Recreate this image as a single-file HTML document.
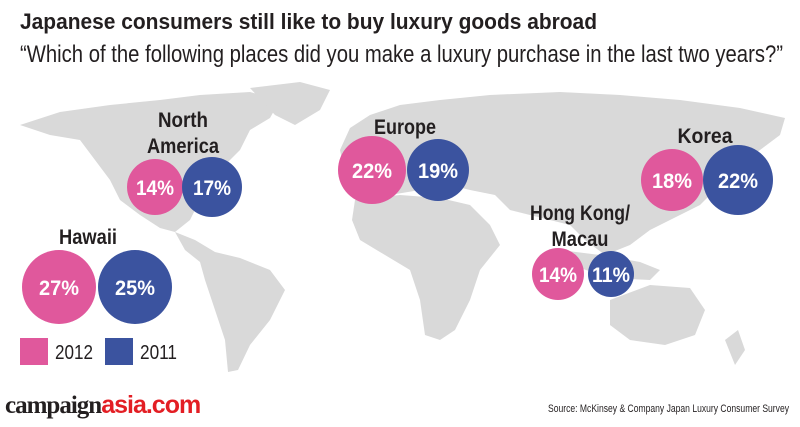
<!DOCTYPE html>
<html><head><meta charset="utf-8"><style>
body{margin:0;width:800px;height:422px;background:#fff;overflow:hidden;font-family:"Liberation Sans",sans-serif;}
</style></head><body>
<svg width="800" height="422" xmlns="http://www.w3.org/2000/svg" font-family="Liberation Sans, sans-serif">
<g fill="#d9d9d9">
<path d="M20,125 L60,112 L110,105 L160,100 L200,95 L250,92 L280,100 L270,118 L250,130 L240,150 L225,165 L215,190 L200,200 L190,220 L175,232 L160,228 L140,215 L120,200 L110,180 L95,160 L80,140 L50,135 Z"/>
<path d="M250,88 L300,82 L330,90 L320,110 L295,125 L275,115 Z"/>
<path d="M175,232 L195,240 L215,252 L240,258 L270,270 L285,290 L270,320 L250,345 L238,370 L228,372 L225,340 L215,310 L205,280 L200,262 L185,250 Z"/>
<path d="M340,150 L350,128 L370,115 L400,105 L440,100 L490,95 L560,92 L620,95 L680,100 L740,108 L785,118 L780,135 L760,150 L740,165 L720,185 L700,205 L680,215 L650,230 L630,245 L605,255 L585,240 L570,225 L550,220 L530,215 L510,210 L495,195 L470,190 L450,185 L420,190 L390,195 L360,190 L345,175 Z"/>
<path d="M355,200 L400,195 L440,198 L470,205 L490,225 L500,245 L480,270 L470,300 L455,330 L440,340 L425,335 L420,300 L410,270 L385,255 L360,240 L352,220 Z"/>
<path d="M560,250 L600,255 L640,262 L660,270 L650,280 L610,278 L580,268 Z"/>
<path d="M610,300 L650,285 L690,288 L705,310 L695,335 L665,345 L630,340 L610,325 Z"/>
<path d="M725,340 L738,330 L745,350 L735,365 Z"/>
</g>
<text x="20" y="29" font-size="22" font-weight="bold" fill="#231f20" textLength="577" lengthAdjust="spacingAndGlyphs">Japanese consumers still like to buy luxury goods abroad</text>
<text x="20" y="62" font-size="24" fill="#231f20" textLength="763" lengthAdjust="spacingAndGlyphs">“Which of the following places did you make a luxury purchase in the last two years?”</text>
<g font-size="21" font-weight="bold" fill="#231f20" text-anchor="middle">
<text x="183" y="127" textLength="50" lengthAdjust="spacingAndGlyphs">North</text>
<text x="183" y="153" textLength="72" lengthAdjust="spacingAndGlyphs">America</text>
<text x="405" y="134" textLength="62" lengthAdjust="spacingAndGlyphs">Europe</text>
<text x="705" y="143" textLength="55" lengthAdjust="spacingAndGlyphs">Korea</text>
<text x="580" y="220" textLength="100" lengthAdjust="spacingAndGlyphs">Hong Kong/</text>
<text x="580" y="246" textLength="57" lengthAdjust="spacingAndGlyphs">Macau</text>
<text x="88" y="244" textLength="58" lengthAdjust="spacingAndGlyphs">Hawaii</text>
</g>
<g>
<circle cx="155" cy="187" r="28" fill="#e0589c"/><circle cx="212" cy="187" r="30" fill="#3b539f"/>
<circle cx="372" cy="170" r="34" fill="#e0589c"/><circle cx="438" cy="170" r="31" fill="#3b539f"/>
<circle cx="672" cy="180" r="31" fill="#e0589c"/><circle cx="738" cy="180" r="35" fill="#3b539f"/>
<circle cx="558" cy="274" r="26" fill="#e0589c"/><circle cx="611" cy="274" r="23" fill="#3b539f"/>
<circle cx="59" cy="287" r="37" fill="#e0589c"/><circle cx="135" cy="287" r="37" fill="#3b539f"/>
</g>
<g font-size="21" font-weight="bold" fill="#fff" text-anchor="middle">
<text x="155" y="195" textLength="38" lengthAdjust="spacingAndGlyphs">14%</text>
<text x="212" y="195" textLength="38" lengthAdjust="spacingAndGlyphs">17%</text>
<text x="372" y="178" textLength="40" lengthAdjust="spacingAndGlyphs">22%</text>
<text x="438" y="178" textLength="40" lengthAdjust="spacingAndGlyphs">19%</text>
<text x="672" y="188" textLength="40" lengthAdjust="spacingAndGlyphs">18%</text>
<text x="738" y="188" textLength="40" lengthAdjust="spacingAndGlyphs">22%</text>
<text x="558" y="282" textLength="38" lengthAdjust="spacingAndGlyphs">14%</text>
<text x="611" y="282" textLength="38" lengthAdjust="spacingAndGlyphs">11%</text>
<text x="59" y="295" textLength="40" lengthAdjust="spacingAndGlyphs">27%</text>
<text x="135" y="295" textLength="40" lengthAdjust="spacingAndGlyphs">25%</text>
</g>
<rect x="20" y="338" width="28" height="27" fill="#e0589c"/>
<text x="55" y="359" font-size="20" fill="#231f20" textLength="38" lengthAdjust="spacingAndGlyphs">2012</text>
<rect x="105" y="338" width="28" height="27" fill="#3b539f"/>
<text x="140" y="359" font-size="20" fill="#231f20" textLength="37" lengthAdjust="spacingAndGlyphs">2011</text>
<text x="5" y="413" font-size="25" font-weight="bold" font-family="Liberation Serif, serif" fill="#231f20" letter-spacing="-1">campaign<tspan fill="#e31e24" font-family="Liberation Sans, sans-serif">asia.com</tspan></text>
<text x="548" y="412" font-size="11" fill="#231f20" textLength="241" lengthAdjust="spacingAndGlyphs">Source: McKinsey &amp; Company Japan Luxury Consumer Survey</text>
</svg>
</body></html>
